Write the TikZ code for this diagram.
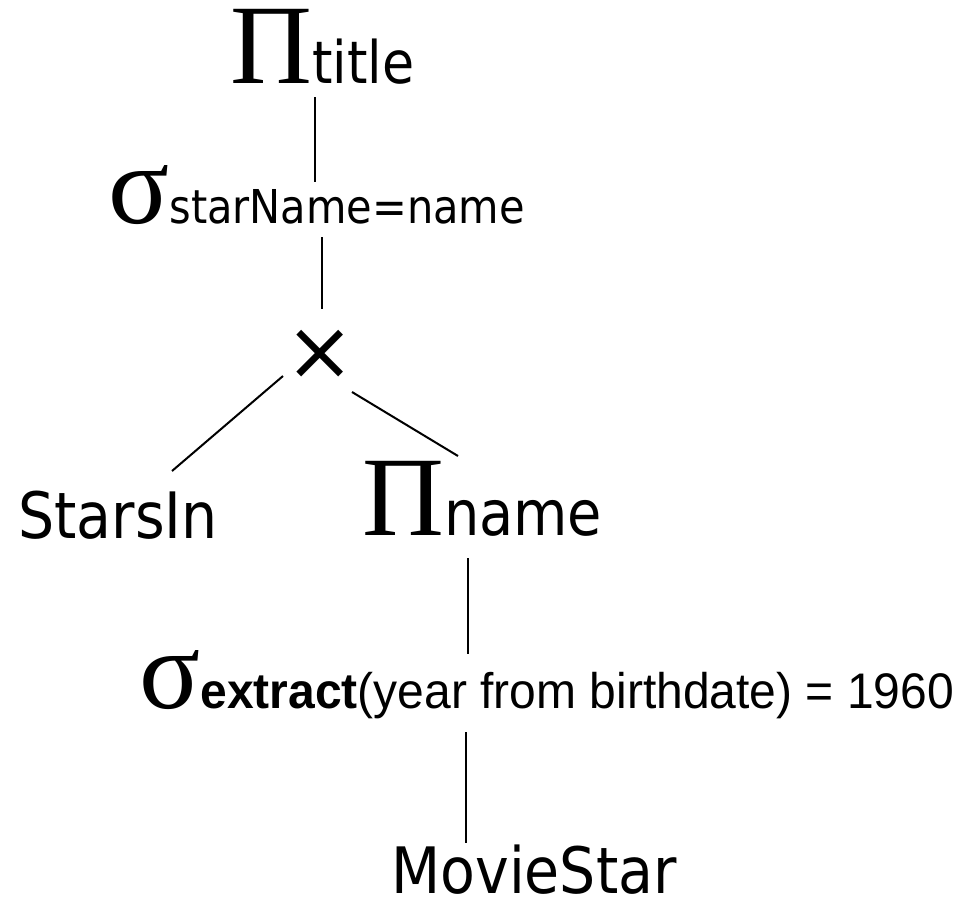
\documentclass[tikz,border=0pt]{standalone}
\usepackage{fontspec}
\usepackage{tikz}
\usetikzlibrary{calc}
\newfontfamily\tahomaFont[FakeStretch=0.89]{DejaVu Sans}
\newfontfamily\greekFont{Liberation Serif}
\newfontfamily\arialFont[FakeStretch=0.96]{Liberation Sans}
\newfontfamily\symFont{DejaVu Sans}
\newcommand{\bigOp}[1]{{\greekFont\fontsize{85}{88}\selectfont #1}}
\newcommand{\relText}[1]{{\tahomaFont\fontsize{48}{52}\selectfont #1}}

\begin{document}
\begin{tikzpicture}[x=0.75pt,y=-0.75pt]

          \tikzstyle{opNode} = [inner sep=0pt, anchor=base west];
          \tikzstyle{treeEdge} = [line width=1.5pt];

          \useasboundingbox (0,0) rectangle (959,897);

          \node[opNode] (projtitle) at (230,83) {\bigOp{Π}{\tahomaFont\fontsize{44}{48}\selectfont title}};
          \node[opNode] (selname) at (108,223) {\bigOp{σ}{\tahomaFont\fontsize{35}{40}\selectfont starName=name}};
          \node[inner sep=0pt] (cross) at (320,355) {{\symFont\fontsize{62}{66}\selectfont ×}};
          \node[opNode] (starsin) at (18,538) {\relText{StarsIn}};
          \node[opNode] (projname) at (362,535) {\bigOp{Π}{\tahomaFont\fontsize{47}{52}\selectfont name}};
          \node[opNode] (selyear) at (139,708) {\bigOp{σ}{\arialFont\fontsize{37.5}{42}\selectfont\textbf{extract}(year from birthdate) = 1960}};
          \node[opNode] (moviestar) at (391,893) {\relText{MovieStar}};

          \draw[treeEdge] ($(projtitle.base west)+(85,14)$) -- ($(selname.base west)+(207,-41)$);
          \draw[treeEdge] ($(selname.base west)+(214,14)$) -- ($(cross.center)+(2,-46)$);
          \draw[treeEdge] ($(cross.center)+(-37,21)$) -- ($(starsin.base west)+(154,-67)$);
          \draw[treeEdge] ($(cross.center)+(32,37)$) -- ($(projname.base west)+(96,-79)$);
          \draw[treeEdge] ($(projname.base west)+(106,23)$) -- ($(selyear.base west)+(329,-54)$);
          \draw[treeEdge] ($(selyear.base west)+(327,24)$) -- ($(moviestar.base west)+(75,-50)$);
        \end{tikzpicture}
\end{document}
